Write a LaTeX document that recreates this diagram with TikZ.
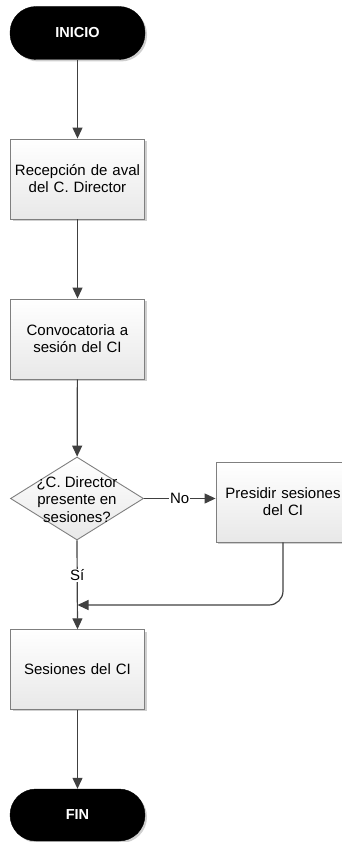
\documentclass[tikz,border=0pt]{standalone}
\usepackage{fontspec}
\setmainfont{Liberation Sans}
\usetikzlibrary{arrows.meta,shapes.geometric,shadows}
\definecolor{connc}{HTML}{404040}
\definecolor{edgec}{HTML}{7F7F7F}
\definecolor{shadc}{HTML}{CFCFCF}
\begin{document}
\begin{tikzpicture}[x=1pt,y=-1pt,
  myshadow/.style={drop shadow={shadow xshift=2pt, shadow yshift=-2pt, fill=shadc, opacity=1}},
  procbox/.style={rectangle, draw=edgec, line width=0.9pt, top color=white, bottom color=black!9,
    myshadow, minimum width=134pt, minimum height=80pt, text width=128pt, align=center,
    inner sep=3pt, font=\fontsize{15}{17}\selectfont},
  terminal/.style={rectangle, rounded corners=26pt, fill=black, draw=black,
    minimum width=135pt, minimum height=53pt, text=white, myshadow,
    font=\fontsize{14.5}{17}\selectfont\bfseries},
  decshape/.style={diamond, draw=edgec, line width=0.9pt, top color=white, bottom color=black!9,
    minimum width=133pt, minimum height=83pt, inner sep=0pt},
  conn/.style={draw=connc, line width=1.2pt, -{Triangle[length=11pt,width=10pt]}},
  lbl/.style={fill=white, inner sep=1pt, font=\fontsize{15}{17}\selectfont}]
\useasboundingbox (0,0) rectangle (342,842);
\clip (0,0) rectangle (342,842);

\node[terminal] (inicio) at (77.5,33) {INICIO};
\node[procbox] (rec) at (77.5,179) {Recepción de aval\\del C. Director};
\node[procbox] (conv) at (77.5,339) {Convocatoria a\\sesión del CI};
\node[decshape] (dec) at (77,498.5) {};
\node[align=center, inner sep=0pt, font=\fontsize{15}{17.5}\selectfont] (dectext) at (77,499.5)
  {¿C. Director\\presente en\\sesiones?};
\node[procbox] (pres) at (283,502) {Presidir sesiones\\del CI};
\node[procbox, minimum height=79.5pt] (ses) at (77.5,669.5) {Sesiones del CI};
\node[terminal, minimum height=52pt] (fin) at (77.5,815) {FIN};
\coordinate (join) at (77.5,605);

\draw[conn] (inicio) -- (rec);
\draw[conn] (rec) -- (conv);
\draw[conn] (conv) -- (dec);
\draw[conn] (dec.east) -- node[lbl] {No} (dec.east -| pres.west);
\draw[conn] (dec.south) -- node[lbl, pos=0.39] {Sí} (ses.north);
\draw[conn, rounded corners=14pt] (pres.south) |- (join);
\draw[conn] (ses) -- (fin);
\end{tikzpicture}
\end{document}
